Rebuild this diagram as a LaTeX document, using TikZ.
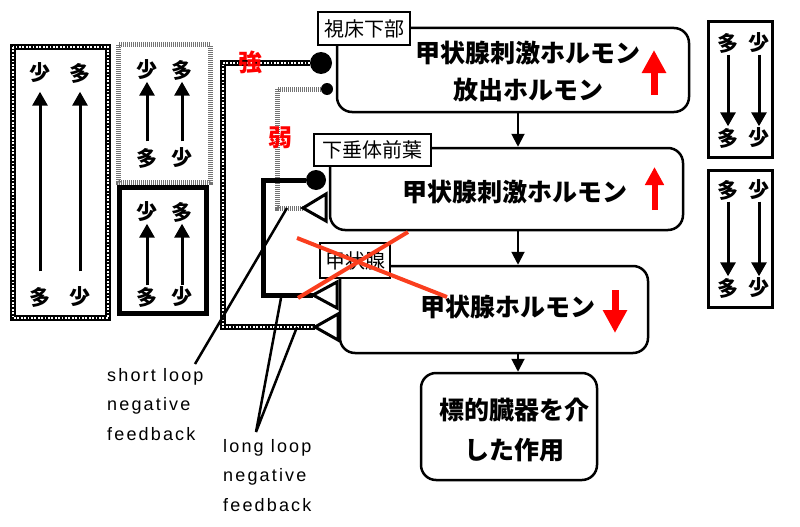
\documentclass[tikz,border=0pt]{standalone}
\usepackage{fontspec}
\usepackage{tikz}
\usetikzlibrary{positioning,arrows.meta}
\newfontfamily\jp{Noto Sans CJK JP}
\newfontfamily\lat[LetterSpace=12]{Liberation Sans}
\definecolor{crossred}{RGB}{250,62,30}

\begin{document}
\begin{tikzpicture}[x=1pt,y=-1pt,
  organ/.style={draw, line width=2.5pt, rounded corners=15pt, inner sep=0pt},
  big/.style={font=\jp\bfseries\fontsize{25}{37}\selectfont, align=center, inner sep=0pt},
  tag/.style={draw, line width=2pt, fill=white, font=\jp\fontsize{20}{20}\selectfont, inner sep=0pt},
  kanji/.style={font=\jp\bfseries\fontsize{21}{21}\selectfont, inner sep=1.5pt},
  legend/.style={line width=3pt, -{Triangle[length=14pt,width=15pt]}},
  flow/.style={line width=2pt, -{Triangle[length=13pt,width=13pt]}},
  chain/.style={line width=6pt, draw=black, postaction={draw=white, line width=2pt, dash pattern=on 1.8pt off 1.6pt}},
  speckle/.style={line width=5pt, draw=black!55, dash pattern=on 1pt off 1pt},
  dot/.style={circle, fill=black, inner sep=0pt},
  receptor/.style={line width=3pt, fill=white, line join=miter},
  note/.style={font=\lat\fontsize{18}{29.5}\selectfont, align=left, inner sep=0pt},
  upr/.style={draw=red, line width=7pt, -{Triangle[length=23pt,width=23pt]}},
  strength/.style={font=\jp\bfseries\fontsize{24}{24}\selectfont, text=red, inner sep=0pt}]
  \useasboundingbox (0,0) rectangle (800,527);

  % legend boxes, left
  \draw[chain] (13,47) rectangle (108,318); % outer
  \node[kanji] (l1a) at (40,73) {少};
  \node[kanji] (l1b) at (80,73) {多};
  \node[kanji] (l1c) at (40,297) {多};
  \node[kanji] (l1d) at (80,297) {少};
  \draw[legend, shorten <=14pt, shorten >=7pt] (l1c) -- (l1a);
  \draw[legend, shorten <=14pt, shorten >=7pt] (l1d) -- (l1b);
  \draw[speckle] (118,45) rectangle (210,182); % weak
  \node[kanji] (l2a) at (147,70) {少};
  \node[kanji] (l2b) at (182,70) {多};
  \node[kanji] (l2c) at (147,158) {多};
  \node[kanji] (l2d) at (182,158) {少};
  \draw[legend, shorten <=5pt] (l2c) -- (l2a);
  \draw[legend, shorten <=5pt] (l2d) -- (l2b);
  \draw[line width=5pt] (119,187) rectangle (206,313); % short
  \node[kanji] (l3a) at (147,212) {少};
  \node[kanji] (l3b) at (182,212) {多};
  \node[kanji] (l3c) at (147,297) {多};
  \node[kanji] (l3d) at (182,297) {少};
  \draw[legend] (l3c) -- (l3a);
  \draw[legend] (l3d) -- (l3b);

  % legend boxes, right
  \draw[line width=3pt] (708,22) rectangle (772,157);
  \node[kanji] (r1a) at (728,43) {多};
  \node[kanji] (r1b) at (759,43) {少};
  \node[kanji] (r1c) at (728,138) {多};
  \node[kanji] (r1d) at (759,138) {少};
  \draw[legend] (r1a) -- (r1c);
  \draw[legend] (r1b) -- (r1d);
  \draw[line width=3pt] (708,170) rectangle (772,307);
  \node[kanji] (r2a) at (728,190) {多};
  \node[kanji] (r2b) at (759,190) {少};
  \node[kanji] (r2c) at (728,288) {多};
  \node[kanji] (r2d) at (759,288) {少};
  \draw[legend] (r2a) -- (r2c);
  \draw[legend] (r2b) -- (r2d);

  % organs
  \node[organ, minimum width=352pt, minimum height=84pt] (hypo) at (513,70) {};
  \node[big] (hypotxt) at (528,72) {甲状腺刺激ホルモン\\放出ホルモン};
  \node[organ, minimum width=353pt, minimum height=82pt] (pit) at (506.5,189) {};
  \node[big] (pittxt) at (515,192) {甲状腺刺激ホルモン};
  \node[organ, minimum width=308pt, minimum height=87pt] (thy) at (494,309.5) {};
  \node[big] (thytxt) at (508,307) {甲状腺ホルモン};
  \node[organ, minimum width=176pt, minimum height=107pt] (eff) at (509,426.5) {};
  \node[big, font=\jp\bfseries\fontsize{25}{40}\selectfont] (efftxt) at (514,430) {標的臓器を介\\した作用};
  \node[tag, minimum width=92pt, minimum height=33pt] (hypotag) at (364,28.5) {視床下部};
  \node[tag, minimum width=117pt, minimum height=32pt] (pittag) at (372.5,150) {下垂体前葉};
  \node[tag, minimum width=70pt, minimum height=35pt] (thytag) at (355,260.5) {甲状腺};

  \coordinate (ax) at (518,0);
  \draw[flow] (hypo.south -| ax) -- (pit.north -| ax);
  \draw[flow] (pit.south -| ax) -- (thy.north -| ax);
  \draw[flow] (thy.south -| ax) -- (eff.north -| ax);

  \draw[upr] (654,95) -- (654,50); % up
  \draw[upr, line width=6pt, -{Triangle[length=18pt,width=18pt]}] (654.5,210) -- (654.5,167); % up
  \draw[upr] (615,290) -- (615,333); % down

  % feedback
  \node[dot, minimum size=22pt] (strong) at (321,63) {};
  \node[dot, minimum size=12pt] (weak) at (327,89) {};
  \node[dot, minimum size=20pt] (pitdot) at (316,180) {};
  \coordinate (recP) at (303,208);
  \coordinate (recT1) at (313,295);
  \coordinate (recT2) at (315,327);
  \draw[chain] (strong) -- (223,63) |- (recT2); % long loop
  \draw[speckle] (weak) -- (277,89) |- (recP);
  \draw[line width=5pt] (pitdot) -- (263,180) |- (recT1); % short loop
  \draw[receptor] (recP) -- ++(23,-14) -- ++(0,27) -- cycle;
  \draw[receptor] (recT1) -- ++(24,-13) -- ++(0,26) -- cycle;
  \draw[receptor] (recT2) -- ++(23,-13) -- ++(0,26) -- cycle;
  \node[strength] (strlbl) at (250,62) {強};
  \node[strength] (wklbl) at (280,138) {弱};

  % notes
  \node[note, anchor=north west] (shortlbl) at (107,368) {short loop\\negative\\feedback};
  \node[note, anchor=north west] (longlbl) at (223,439) {long loop\\negative\\feedback};
  \coordinate (shorttip) at (195,364);
  \coordinate (shortend) at (287,208);
  \coordinate (longtip) at (256,432);
  \coordinate (longa) at (281,298);
  \coordinate (longb) at (297,327);
  \draw[line width=2.5pt] (shorttip) -- (shortend);
  \draw[line width=2.5pt] (longa) -- (longtip) -- (longb);

  \draw[crossred, line width=4pt] (297,238) -- (447,297); % cross
  \draw[crossred, line width=4pt] (298,298) -- (408,232);
\end{tikzpicture}
\end{document}
